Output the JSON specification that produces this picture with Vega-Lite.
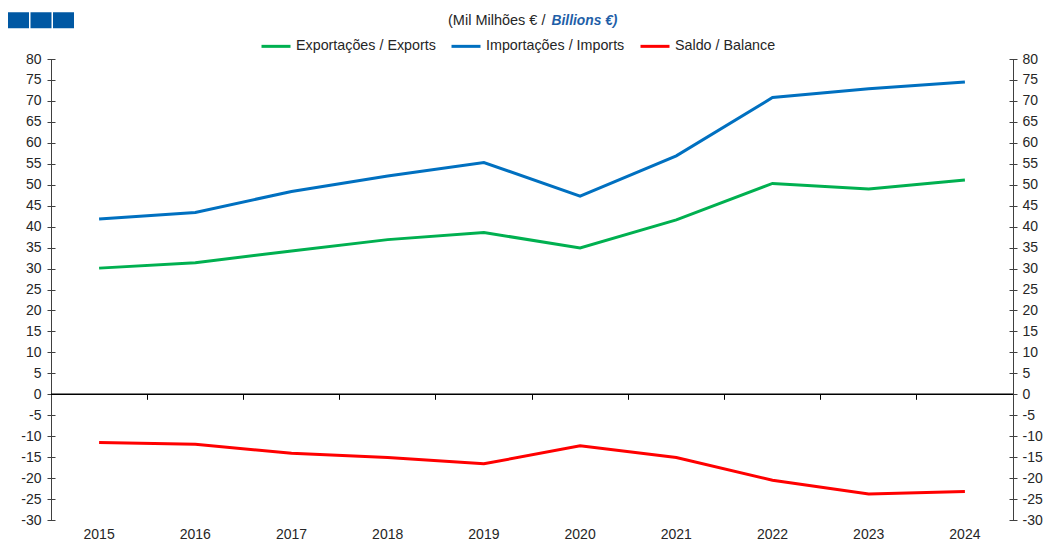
{
  "$schema": "https://vega.github.io/schema/vega-lite/v6.json",
  "width": 962,
  "height": 461,
  "autosize": {"type": "none"},
  "padding": {"left": 51, "top": 59, "right": 34, "bottom": 20},
  "background": "white",
  "config": {
    "view": {"stroke": null},
    "font": "Liberation Sans",
    "axis": {"grid": false, "labelFont": "Liberation Sans", "labelFontSize": 14, "labelColor": "#262626", "tickColor": "#404040", "domainColor": "#404040", "tickWidth": 1, "domainWidth": 1}
  },
  "datasets": {
    "trade": [
      {"year": "2015", "series": "Exportações / Exports", "value": 30.1},
      {"year": "2016", "series": "Exportações / Exports", "value": 31.4},
      {"year": "2017", "series": "Exportações / Exports", "value": 34.2},
      {"year": "2018", "series": "Exportações / Exports", "value": 36.9},
      {"year": "2019", "series": "Exportações / Exports", "value": 38.6},
      {"year": "2020", "series": "Exportações / Exports", "value": 34.9},
      {"year": "2021", "series": "Exportações / Exports", "value": 41.6},
      {"year": "2022", "series": "Exportações / Exports", "value": 50.3},
      {"year": "2023", "series": "Exportações / Exports", "value": 49.0},
      {"year": "2024", "series": "Exportações / Exports", "value": 51.1},
      {"year": "2015", "series": "Importações / Imports", "value": 41.8},
      {"year": "2016", "series": "Importações / Imports", "value": 43.4},
      {"year": "2017", "series": "Importações / Imports", "value": 48.4},
      {"year": "2018", "series": "Importações / Imports", "value": 52.1},
      {"year": "2019", "series": "Importações / Imports", "value": 55.3},
      {"year": "2020", "series": "Importações / Imports", "value": 47.3},
      {"year": "2021", "series": "Importações / Imports", "value": 56.9},
      {"year": "2022", "series": "Importações / Imports", "value": 70.8},
      {"year": "2023", "series": "Importações / Imports", "value": 72.9},
      {"year": "2024", "series": "Importações / Imports", "value": 74.5},
      {"year": "2015", "series": "Saldo / Balance", "value": -11.5},
      {"year": "2016", "series": "Saldo / Balance", "value": -11.9},
      {"year": "2017", "series": "Saldo / Balance", "value": -14.1},
      {"year": "2018", "series": "Saldo / Balance", "value": -15.1},
      {"year": "2019", "series": "Saldo / Balance", "value": -16.6},
      {"year": "2020", "series": "Saldo / Balance", "value": -12.3},
      {"year": "2021", "series": "Saldo / Balance", "value": -15.1},
      {"year": "2022", "series": "Saldo / Balance", "value": -20.5},
      {"year": "2023", "series": "Saldo / Balance", "value": -23.8},
      {"year": "2024", "series": "Saldo / Balance", "value": -23.2}
    ],
    "logo": [{"block": "a"}, {"block": "b"}, {"block": "c"}]
  },
  "data": {"name": "trade"},
  "layer": [
    {
      "mark": {"type": "line", "strokeWidth": 3},
      "encoding": {
        "x": {
          "field": "year", "type": "nominal", "bandPosition": 0.5,
          "scale": {"type": "band", "paddingInner": 0, "paddingOuter": 0},
          "axis": {"orient": "bottom", "domain": false, "ticks": false, "labelPadding": 7, "labelAngle": 0, "title": null}
        },
        "y": {
          "field": "value", "type": "quantitative",
          "scale": {"domain": [-30, 80], "nice": false, "zero": false},
          "axis": {"orient": "left", "values": [-30,-25,-20,-15,-10,-5,0,5,10,15,20,25,30,35,40,45,50,55,60,65,70,75,80], "labelExpr": "'' + datum.value", "domain": false, "offset": -4, "tickSize": 8, "labelPadding": 6, "title": null}
        },
        "color": {
          "field": "series", "type": "nominal",
          "sort": ["Exportações / Exports", "Importações / Imports", "Saldo / Balance"],
          "scale": {"domain": ["Exportações / Exports", "Importações / Imports", "Saldo / Balance"], "range": ["#00B050", "#0070C0", "#FF0000"]},
          "legend": {"orient": "none", "legendX": 209, "legendY": -29, "direction": "horizontal", "title": null, "symbolType": "stroke", "symbolSize": 841, "symbolStrokeWidth": 3, "labelFontSize": 14.3, "labelColor": "#262626", "labelFont": "Liberation Sans", "labelOffset": 4, "columnPadding": 9}
        }
      }
    },
    {
      "data": {"values": [{}]},
      "mark": {"type": "rule", "color": "#000000", "strokeWidth": 1.5},
      "encoding": {
        "y": {
          "datum": 0, "type": "quantitative",
          "axis": {"orient": "right", "values": [-30,-25,-20,-15,-10,-5,0,5,10,15,20,25,30,35,40,45,50,55,60,65,70,75,80], "labelExpr": "'' + datum.value", "domain": false, "offset": -4, "tickSize": 8, "labelPadding": 5, "title": null}
        }
      }
    },
    {
      "mark": {"type": "point", "opacity": 0},
      "encoding": {
        "x": {
          "field": "year", "type": "nominal",
          "axis": {"orient": "bottom", "offset": -125.7, "bandPosition": 0, "domain": false, "labels": false, "ticks": true, "tickSize": 5, "tickColor": "#000000", "title": null}
        },
        "y": {
          "datum": 0, "type": "quantitative",
          "axis": {"orient": "left", "domain": true, "ticks": false, "labels": false, "title": null}
        }
      }
    },
    {
      "mark": {"type": "point", "opacity": 0},
      "encoding": {
        "x": {
          "field": "year", "type": "nominal",
          "axis": {"orient": "top", "domain": false, "labels": false, "ticks": false, "title": "(Mil Milhões € /", "titleX": 494, "titleY": -35, "titleAlign": "right", "titleBaseline": "alphabetic", "titleAnchor": null, "titleFont": "Liberation Sans", "titleFontSize": 14.5, "titleFontWeight": "normal", "titleColor": "#262626"}
        },
        "y": {
          "datum": 0, "type": "quantitative",
          "axis": {"orient": "right", "domain": true, "ticks": false, "labels": false, "title": null}
        }
      }
    },
    {
      "mark": {"type": "point", "opacity": 0},
      "encoding": {
        "x": {
          "field": "year", "type": "nominal",
          "axis": {"orient": "top", "domain": false, "labels": false, "ticks": false, "title": "Billions €)", "titleX": 500, "titleY": -35, "titleAlign": "left", "titleBaseline": "alphabetic", "titleAnchor": null, "titleFont": "Liberation Sans", "titleFontSize": 13.8, "titleFontWeight": "bold", "titleFontStyle": "italic", "titleColor": "#1F5FA8"}
        }
      }
    },
    {
      "data": {"name": "logo"},
      "mark": {"type": "point", "opacity": 0, "filled": true},
      "encoding": {
        "fill": {
          "field": "block", "type": "nominal",
          "scale": {"domain": ["a", "b", "c"], "range": ["#0058A3", "#0058A3", "#0058A3"]},
          "legend": {"orient": "none", "legendX": -43, "legendY": -49.5, "direction": "horizontal", "title": null, "symbolType": "M-1,-0.762H1V0.762H-1Z", "symbolSize": 441, "symbolStrokeWidth": 0, "symbolOpacity": 1, "labelExpr": "''", "labelOffset": 0, "columnPadding": 1.5, "padding": 0}
        }
      }
    }
  ],
  "resolve": {"axis": {"x": "independent", "y": "independent"}}
}
